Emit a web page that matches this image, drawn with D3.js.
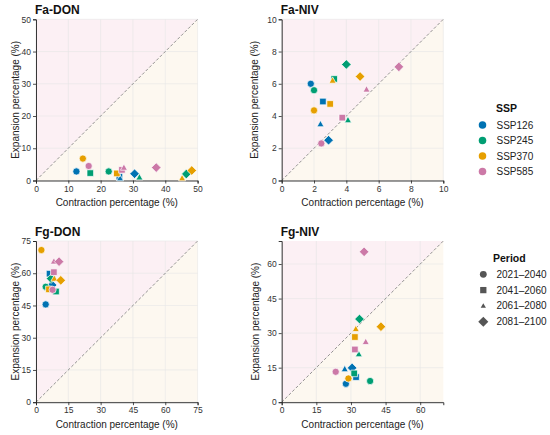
<!DOCTYPE html>
<html><head><meta charset="utf-8">
<script src="https://cdn.jsdelivr.net/npm/d3@7"></script>
<style>body{margin:0;background:#fff;} text{font-family:"Liberation Sans",Arial,sans-serif;}</style>
</head><body><svg id="c" width="550" height="435"></svg>
<script>
const ssps = ["SSP126","SSP245","SSP370","SSP585"];
const periods = ["2021\u20132040","2041\u20132060","2061\u20132080","2081\u20132100"];
const sspColors = ["#0072B2","#009E73","#E69F00","#CC79A7"];
// values ordered SSP126 (4 periods), SSP245, SSP370, SSP585
const faDonContraction = [12.5,25.8,26.0,30.5, 22.5,16.8,32.0,46.5, 14.5,25.0,45.2,48.2, 16.3,26.6,27.2,37.2];
const faDonExpansion   = [2.8,1.2,0.7,2.1, 2.8,2.3,1.0,2.0, 6.8,2.2,0.7,3.1, 4.5,3.3,4.0,4.0];
const faNivContraction = [1.8,2.55,2.4,2.9, 2.0,3.25,4.1,4.0, 2.0,3.0,3.15,4.85, 2.45,3.75,5.25,7.25];
const faNivExpansion   = [6.0,4.9,3.5,2.5, 5.6,6.3,3.75,7.2, 4.35,4.75,6.2,6.45, 2.3,3.9,5.65,7.05];
const fgDonContraction = [4.5,6.3,7.0,7.5, 4.5,9.3,8.0,7.0, 2.5,6.0,8.5,11.5, 7.7,8.3,8.3,10.7];
const fgDonExpansion   = [45.5,59.8,55.5,54.5, 53.7,51.5,58.5,57.5, 70.8,52.5,57.5,56.7, 52.3,60.5,65.5,65.4];
const fgNivContraction = [27.8,32.2,27.3,30.5, 38.3,31.4,33.4,33.7, 28.9,31.7,32.1,43.0, 23.4,31.7,36.4,35.7];
const fgNivExpansion   = [8.0,10.9,14.4,14.9, 9.2,12.5,20.9,36.1, 10.3,28.3,31.8,32.8, 13.2,22.9,26.2,65.3];
const faDonTicks = [0,10,20,30,40,50];
const faNivTicks = [0,2,4,6,8,10];
const fgDonTicks = [0,15,30,45,60,75];
const fgNivTicks = [0,15,30,45,60];
const panelNames = ["Fa-DON","Fa-NIV","Fg-DON","Fg-NIV"];
const panelMax = [50,10,75,70];

const panels = [
  {name:panelNames[0], max:panelMax[0], ticks:faDonTicks, x:faDonContraction, y:faDonExpansion, L:36, T:19.3, ytx:15},
  {name:panelNames[1], max:panelMax[1], ticks:faNivTicks, x:faNivContraction, y:faNivExpansion, L:281.7, T:19.3, ytx:254},
  {name:panelNames[2], max:panelMax[2], ticks:fgDonTicks, x:fgDonContraction, y:fgDonExpansion, L:36, T:241, ytx:15},
  {name:panelNames[3], max:panelMax[3], ticks:fgNivTicks, x:fgNivContraction, y:fgNivExpansion, L:281.7, T:241, ytx:255}
];
const W = 161.6, H = 161.2;

function shapePath(k, s) {
  s = s || 1;
  if (k === 0) { const r = 3.6*s; return `M${r},0A${r},${r} 0 1,1 ${-r},0A${r},${r} 0 1,1 ${r},0Z`; }
  if (k === 1) { const h = 3.3*s; return `M${-h},${-h}H${h}V${h}H${-h}Z`; }
  if (k === 2) { const a = 3.5*s; return `M0,${-a*1.05}L${a},${a*0.75}L${-a},${a*0.75}Z`; }
  const d = 4.8*s; return `M0,${-d}L${d},0L0,${d}L${-d},0Z`;
}

const svg = d3.select("#c");
panels.forEach(p => {
  const x = d3.scaleLinear().domain([0,p.max]).range([p.L, p.L+W]);
  const y = d3.scaleLinear().domain([0,p.max]).range([p.T+H, p.T]);
  const g = svg.append("g");
  // backgrounds
  g.append("path").attr("d",`M${x(0)},${y(0)}L${x(0)},${y(p.max)}L${x(p.max)},${y(p.max)}Z`).attr("fill","#fcf0f4");
  g.append("path").attr("d",`M${x(0)},${y(0)}L${x(p.max)},${y(0)}L${x(p.max)},${y(p.max)}Z`).attr("fill","#fdf8f0");
  // grid
  p.ticks.forEach(t => {
    g.append("line").attr("x1",x(t)).attr("x2",x(t)).attr("y1",y(0)).attr("y2",y(p.max)).attr("stroke","#e6e6e6").attr("stroke-width",0.6);
    g.append("line").attr("y1",y(t)).attr("y2",y(t)).attr("x1",x(0)).attr("x2",x(p.max)).attr("stroke","#e6e6e6").attr("stroke-width",0.6);
  });
  // diagonal
  g.append("line").attr("x1",x(0)).attr("y1",y(0)).attr("x2",x(p.max)).attr("y2",y(p.max))
    .attr("stroke","#777").attr("stroke-width",0.8).attr("stroke-dasharray","3,2");
  // axes
  const xa = g.append("g").attr("transform",`translate(0,${p.T+H})`).call(d3.axisBottom(x).tickValues(p.ticks).tickSize(3).tickPadding(2));
  const ya = g.append("g").attr("transform",`translate(${p.L},0)`).call(d3.axisLeft(y).tickValues(p.ticks).tickSize(3).tickPadding(2));
  [xa,ya].forEach(a => {
    a.select(".domain").attr("stroke","#222").attr("stroke-width",0.9);
    a.selectAll(".tick line").attr("stroke","#222").attr("stroke-width",0.8);
    a.selectAll(".tick text").attr("fill","#333").style("font-size","8.5px").style("font-family","'Liberation Sans',Arial,sans-serif");
  });
  // points
  p.x.forEach((v,i) => {
    const si = Math.floor(i/4), pi = i%4;
    g.append("path").attr("d", shapePath(pi))
      .attr("transform",`translate(${x(v)},${y(p.y[i])})`)
      .attr("fill", sspColors[si]).attr("stroke","#fff").attr("stroke-width",0.7);
  });
  // titles
  g.append("text").attr("x",p.L-1).attr("y",p.T-5).text(p.name).style("font-weight","bold").style("font-size","12px").attr("fill","#111");
  g.append("text").attr("x",p.L+W/2).attr("y",p.T+H+25.5).attr("text-anchor","middle").text("Contraction percentage (%)").style("font-size","10px").attr("fill","#222");
  g.append("text").attr("transform",`translate(${p.ytx},${p.T+H/2}) rotate(-90)`).attr("dy","0.35em").attr("text-anchor","middle").text("Expansion percentage (%)").style("font-size","10px").attr("fill","#222");
});

// SSP legend
const lg1 = svg.append("g");
lg1.append("text").attr("x",496).attr("y",112).text("SSP").style("font-weight","bold").style("font-size","10.5px").attr("fill","#111");
ssps.forEach((s,i) => {
  const cy = 125 + i*15.5;
  lg1.append("path").attr("d", shapePath(0,1.05)).attr("transform",`translate(482.5,${cy})`).attr("fill",sspColors[i]);
  lg1.append("text").attr("x",496.5).attr("y",cy).attr("dy","0.35em").text(s).style("font-size","10px").attr("fill","#222");
});
// Period legend
const lg2 = svg.append("g");
lg2.append("text").attr("x",493).attr("y",262).text("Period").style("font-weight","bold").style("font-size","10.5px").attr("fill","#111");
periods.forEach((s,i) => {
  const cy = 274.3 + i*15.8;
  const sc = i===2 ? 0.75 : (i===3 ? 1.05 : 0.95);
  lg2.append("path").attr("d", shapePath(i, sc)).attr("transform",`translate(483.3,${cy})`).attr("fill","#555");
  lg2.append("text").attr("x",496.5).attr("y",cy).attr("dy","0.35em").text(s).style("font-size","10px").attr("fill","#222");
});
</script></body></html>
